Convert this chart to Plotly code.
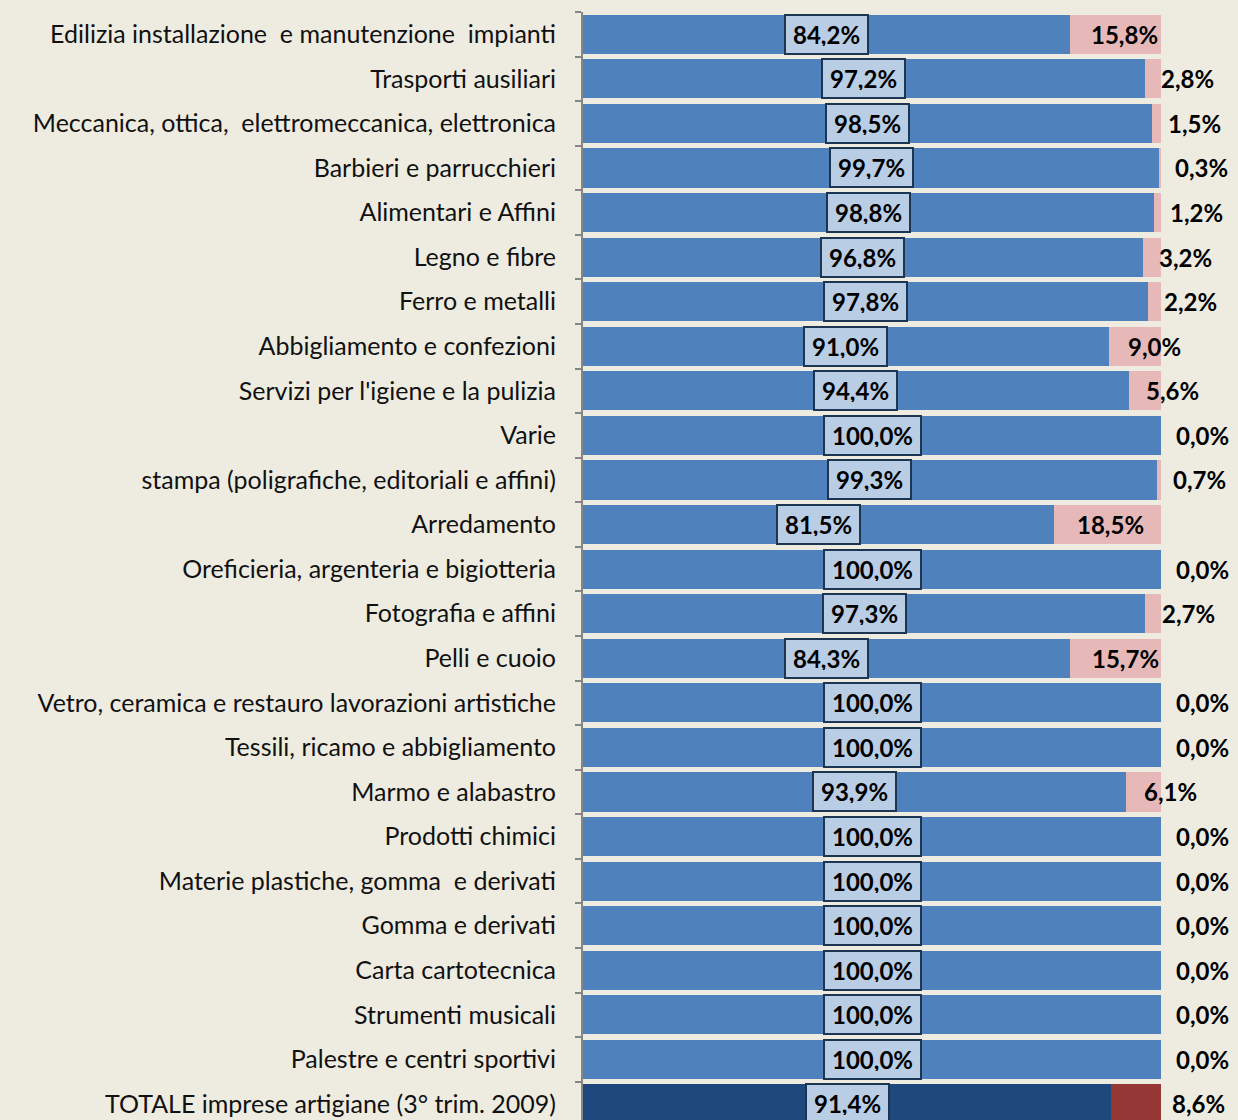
import plotly.graph_objects as go

categories = [
    "Edilizia installazione  e manutenzione  impianti",
    "Trasporti ausiliari",
    "Meccanica, ottica,  elettromeccanica, elettronica",
    "Barbieri e parrucchieri",
    "Alimentari e Affini",
    "Legno e fibre",
    "Ferro e metalli",
    "Abbigliamento e confezioni",
    "Servizi per l'igiene e la pulizia",
    "Varie",
    "stampa (poligrafiche, editoriali e affini)",
    "Arredamento",
    "Oreficieria, argenteria e bigiotteria",
    "Fotografia e affini",
    "Pelli e cuoio",
    "Vetro, ceramica e restauro lavorazioni artistiche",
    "Tessili, ricamo e abbigliamento",
    "Marmo e alabastro",
    "Prodotti chimici",
    "Materie plastiche, gomma  e derivati",
    "Gomma e derivati",
    "Carta cartotecnica",
    "Strumenti musicali",
    "Palestre e centri sportivi",
    "TOTALE imprese artigiane (3° trim. 2009)",
]
share_a = [84.2, 97.2, 98.5, 99.7, 98.8, 96.8, 97.8, 91.0, 94.4, 100.0, 99.3, 81.5, 100.0,
           97.3, 84.3, 100.0, 100.0, 93.9, 100.0, 100.0, 100.0, 100.0, 100.0, 100.0, 91.4]
share_b = [15.8, 2.8, 1.5, 0.3, 1.2, 3.2, 2.2, 9.0, 5.6, 0.0, 0.7, 18.5, 0.0,
           2.7, 15.7, 0.0, 0.0, 6.1, 0.0, 0.0, 0.0, 0.0, 0.0, 0.0, 8.6]

def fmt(v):
    return f"{v:.1f}".replace(".", ",") + "%"

n = len(categories)
col_a = ["#4F81BD"] * (n - 1) + ["#1F497D"]
col_b = ["#E6B9B8"] * (n - 1) + ["#953735"]

FONT = "Lato"
BG = "#EEECE1"

fig = go.Figure()
fig.add_trace(go.Bar(y=categories, x=share_a, orientation="h", marker=dict(color=col_a, line=dict(width=0)),
                     hoverinfo="skip", showlegend=False))
fig.add_trace(go.Bar(y=categories, x=share_b, orientation="h", marker=dict(color=col_b, line=dict(width=0)),
                     hoverinfo="skip", showlegend=False))

annotations = []
for i, (c, a, b) in enumerate(zip(categories, share_a, share_b)):
    annotations.append(dict(
        x=a / 2, y=c, xref="x", yref="y", text=f"<b>{fmt(a)}</b>", showarrow=False,
        font=dict(family=FONT, size=24, color="#000000"),
        bgcolor="#B9CDE5", bordercolor="#1C3553", borderwidth=2, borderpad=7, height=23,
        xanchor="center", yanchor="middle"))
    is_total = (i == n - 1)
    xpos = 101.5 if is_total else 102.3 - 0.93 * b
    annotations.append(dict(
        x=xpos / 100.0, y=c, xref="paper", yref="y", text=f"<b>{fmt(b)}</b>", showarrow=False,
        font=dict(family=FONT, size=24, color="#000000"),
        xanchor="left", yanchor="middle"))

fig.update_layout(
    width=1238, height=1120,
    barmode="stack", bargap=0.12,
    paper_bgcolor=BG, plot_bgcolor=BG,
    margin=dict(l=583, r=77, t=12, b=0),
    font=dict(family=FONT, size=25, color="#000000"),
    annotations=annotations,
    xaxis=dict(range=[0, 100], visible=False, showgrid=False, zeroline=False),
    yaxis=dict(type="category", range=[24.36, -0.5], showline=True, linecolor="#868686", linewidth=2,
               ticks="outside", ticklen=6, tickcolor="#868686", tickwidth=2, tickson="boundaries",
               ticklabelstandoff=20, showgrid=False, tickfont=dict(family=FONT, size=25, color="#111111")),
)

fig.write_html("out.html", config={"displayModeBar": False}, post_script=(
    "document.body.style.margin='0';document.body.style.padding='0';"
    "document.body.style.background='" + BG + "';document.body.style.overflow='hidden';"
))
